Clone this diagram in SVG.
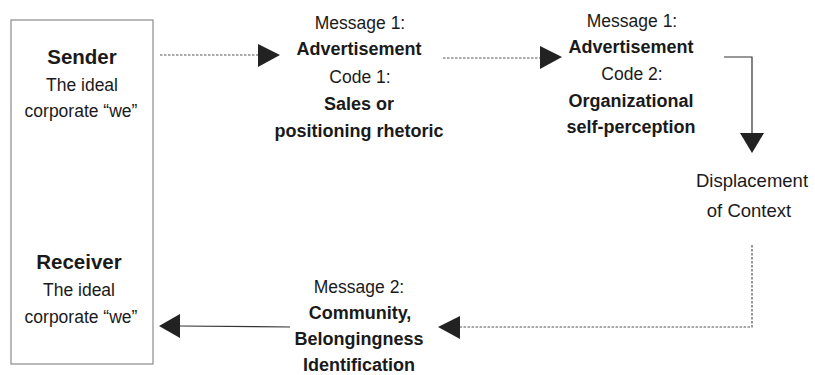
<svg xmlns="http://www.w3.org/2000/svg" width="815" height="375" viewBox="0 0 815 375">
<style>
text{font-family:"Liberation Sans",Arial,sans-serif;fill:#1a1a1a;text-anchor:middle}
.r{font-size:17.5px}
.b{font-size:18px;font-weight:bold}
.h{font-size:20.5px;font-weight:bold}
.d{font-size:18.5px}
.box{fill:#fff;stroke:#8a8a8a;stroke-width:1.2}
.dot{fill:none;stroke:#555;stroke-width:1.2;stroke-dasharray:2.5 1.5}
.sol{fill:none;stroke:#333;stroke-width:1.2}
.head{fill:#222}
</style>
<rect width="815" height="375" fill="#fff"/>
<g id="box">
<rect class="box" x="11" y="20" width="142" height="344"/>
</g>
<g id="sender">
<text class="h" x="82" y="64">Sender</text>
<text class="r" x="82" y="91">The ideal</text>
<text class="r" x="81" y="117">corporate “we”</text>
</g>
<g id="receiver">
<text class="h" x="79" y="269">Receiver</text>
<text class="r" x="79" y="296">The ideal</text>
<text class="r" x="81" y="323">corporate “we”</text>
</g>
<g id="message1-code1">
<text class="r" x="360" y="29">Message 1:</text>
<text class="b" x="359" y="55">Advertisement</text>
<text class="r" x="360" y="83">Code 1:</text>
<text class="b" x="359" y="110">Sales or</text>
<text class="b" x="359" y="137">positioning rhetoric</text>
</g>
<g id="message1-code2">
<text class="r" x="632" y="27">Message 1:</text>
<text class="b" x="631" y="53">Advertisement</text>
<text class="r" x="632" y="80">Code 2:</text>
<text class="b" x="631" y="107">Organizational</text>
<text class="b" x="631" y="133">self-perception</text>
</g>
<g id="displacement">
<text class="d" x="752" y="187">Displacement</text>
<text class="d" x="749" y="217">of Context</text>
</g>
<g id="message2">
<text class="r" x="359" y="293">Message 2:</text>
<text class="b" x="360" y="319">Community,</text>
<text class="b" x="359" y="345">Belongingness</text>
<text class="b" x="359" y="371">Identification</text>
</g>
<g id="connectors">
<path class="dot" d="M160 55H259"/>
<polygon class="head" points="258,44 280,55 258,67"/>
<path class="dot" d="M443 58H541"/>
<polygon class="head" points="540,46 562,57 540,69"/>
<path class="sol" d="M724 57H752V134"/>
<polygon class="head" points="740,133 764,133 752,153"/>
<path class="dot" d="M752 245V327H459"/>
<polygon class="head" points="460,316 438,327 460,339"/>
<path class="sol" d="M290 327L179 326"/>
<polygon class="head" points="180,314 159,326 180,338"/>
</g>
</svg>
